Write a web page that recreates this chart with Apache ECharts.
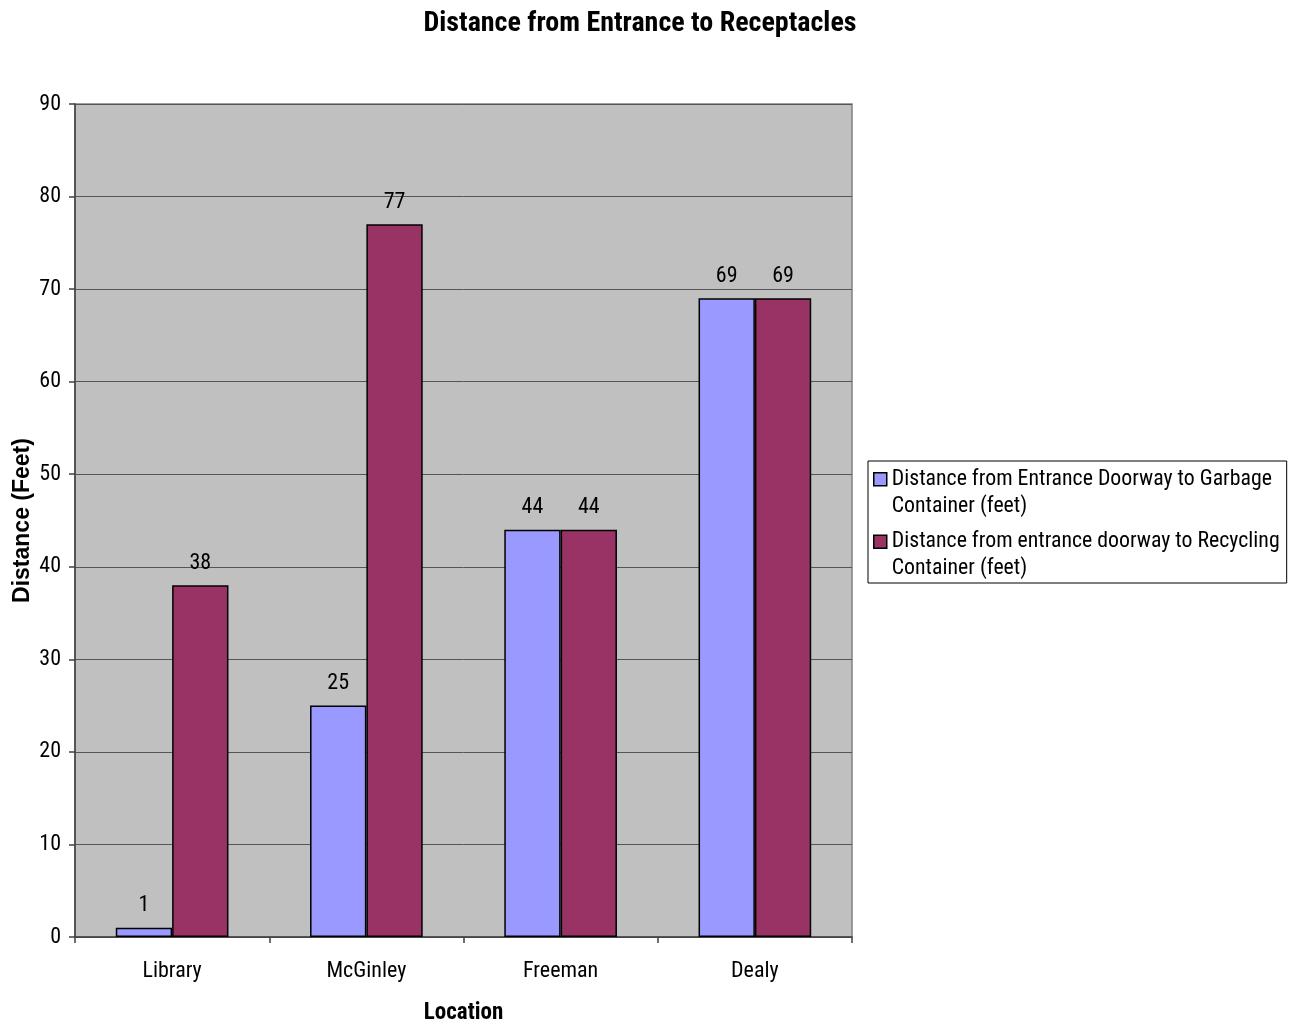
<!DOCTYPE html>
<html>
<head>
<meta charset="utf-8">
<title>Distance from Entrance to Receptacles</title>
<script src="https://cdn.jsdelivr.net/npm/echarts@6/dist/echarts.min.js"></script>
<style>
  html, body { margin: 0; padding: 0; background: #ffffff; }
  #chart { width: 1302px; height: 1026px; }
</style>
</head>
<body>
<div id="chart"></div>
<script>
// Locations surveyed and the measured distances (feet)
const categories = ['Library', 'McGinley', 'Freeman', 'Dealy'];
const garbageDistance = [1, 25, 44, 69];
const recyclingDistance = [38, 77, 44, 69];
const seriesNames = [
  'Distance from Entrance Doorway to Garbage\nContainer (feet)',
  'Distance from entrance doorway to Recycling\nContainer (feet)'
];

const FONT = '"Roboto Condensed", "Liberation Sans", Arial, sans-serif';
const AXIS_NAME_FONT = '"Liberation Sans", Arial, sans-serif';

// Square swatch aligned with the first line of a two-line legend entry
const swatchIcon = 'path://M0 7H13V20H0Z M0 0h0.01 M0 54h0.01';

const chart = echarts.init(document.getElementById('chart'), null, { renderer: 'canvas' });

const labelStyle = {
  show: true,
  position: 'top',
  distance: 11,
  color: '#000',
  fontFamily: FONT,
  fontSize: 22
};

chart.setOption({
  animation: false,
  backgroundColor: '#ffffff',
  title: {
    text: 'Distance from Entrance to Receptacles',
    left: 635,
    textAlign: 'center',
    top: 5,
    textStyle: { fontFamily: FONT, fontSize: 28, fontWeight: 'bold', color: '#000' }
  },
  legend: {
    orient: 'vertical',
    left: 868,
    top: 461,
    padding: [4, 7, 0, 5],
    itemGap: 7,
    itemWidth: 13,
    itemHeight: 54,
    icon: swatchIcon,
    borderColor: '#000',
    borderWidth: 1,
    backgroundColor: '#fff',
    textStyle: { fontFamily: FONT, fontSize: 21.8, color: '#000', lineHeight: 27 },
    itemStyle: { borderColor: '#000', borderWidth: 1.5 },
    data: seriesNames
  },
  grid: {
    left: 75,
    right: 450,
    top: 104,
    bottom: 89,
    outerBoundsMode: 'none',
    show: true,
    backgroundColor: '#c0c0c0',
    borderColor: '#808080',
    borderWidth: 1.5,
    containLabel: false
  },
  xAxis: {
    type: 'category',
    data: categories,
    name: 'Location',
    nameLocation: 'middle',
    nameGap: 65,
    nameMoveOverlap: false,
    nameTextStyle: { fontFamily: FONT, fontSize: 23, fontWeight: 'bold', color: '#000' },
    axisLine: { lineStyle: { color: '#404040', width: 1.5 } },
    axisTick: { show: true, length: 6, lineStyle: { color: '#404040', width: 1.5 } },
    axisLabel: { fontFamily: FONT, fontSize: 22, color: '#000', margin: 23 },
    splitLine: { show: false }
  },
  yAxis: {
    type: 'value',
    min: 0,
    max: 90,
    interval: 10,
    name: 'Distance (Feet)',
    nameLocation: 'middle',
    nameGap: 41,
    nameMoveOverlap: false,
    nameTextStyle: { fontFamily: AXIS_NAME_FONT, fontSize: 23, fontWeight: 'bold', color: '#000' },
    axisLine: { show: true, lineStyle: { color: '#404040', width: 1.5 } },
    axisTick: { show: true, length: 6, lineStyle: { color: '#404040', width: 1.5 } },
    axisLabel: { fontFamily: FONT, fontSize: 22, color: '#000', margin: 14 },
    splitLine: { show: true, lineStyle: { color: '#555555', width: 1 } }
  },
  series: [
    {
      name: seriesNames[0],
      type: 'bar',
      data: garbageDistance,
      barGap: '0%',
      barCategoryGap: '42%',
      itemStyle: { color: '#9999ff', borderColor: '#000', borderWidth: 1.5 },
      label: labelStyle
    },
    {
      name: seriesNames[1],
      type: 'bar',
      data: recyclingDistance,
      barGap: '0%',
      barCategoryGap: '42%',
      itemStyle: { color: '#993366', borderColor: '#000', borderWidth: 1.5 },
      label: labelStyle
    }
  ]
});
</script>
</body>
</html>
